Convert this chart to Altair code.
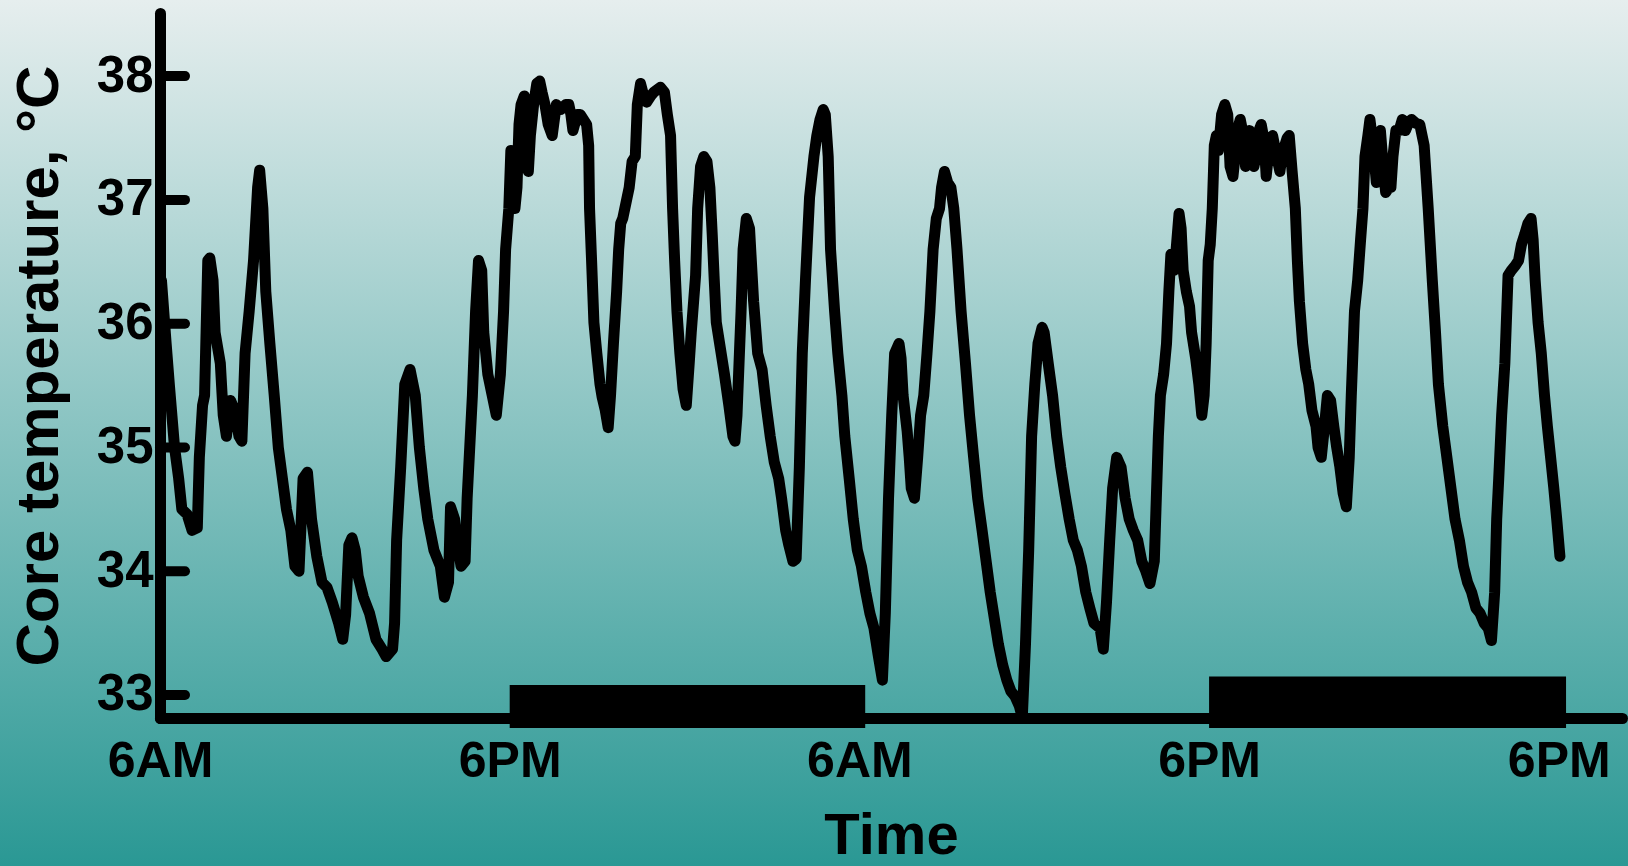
import json
import altair as alt
import pandas as pd

# ---- data (hours after 6AM, core temperature in deg C) ----
hours = [0.05, 0.21, 0.32, 0.50, 0.64, 0.75, 0.93, 1.10, 1.28, 1.35, 1.46, 1.53, 1.64, 1.71, 1.82, 1.89,
         2.07, 2.17, 2.28, 2.42, 2.56, 2.71, 2.81, 2.92, 3.06, 3.21, 3.35, 3.42, 3.53, 3.63, 3.77, 3.92,
         4.06, 4.20, 4.34, 4.49, 4.63, 4.77, 4.91, 5.06, 5.20, 5.38, 5.56, 5.73, 5.91, 6.13, 6.27, 6.37,
         6.48, 6.59, 6.70, 6.80, 6.98, 7.19, 7.41, 7.62, 7.76, 7.98, 8.05, 8.12, 8.26, 8.40, 8.58, 8.76,
         8.90, 9.05, 9.19, 9.40, 9.62, 9.76, 9.90, 9.97, 10.11, 10.19, 10.33, 10.47, 10.54, 10.72, 10.83,
         10.93, 11.04, 11.11, 11.25, 11.40, 11.54, 11.68, 11.79, 11.86, 11.97, 12.04, 12.11, 12.18, 12.25,
         12.32, 12.39, 12.50, 12.57, 12.64, 12.71, 12.82, 12.93, 13.03, 13.11, 13.21, 13.32, 13.46, 13.60,
         13.75, 13.92, 14.03, 14.10, 14.17, 14.32, 14.42, 14.53, 14.64, 14.71, 14.74, 14.81, 14.89, 14.99,
         15.10, 15.17, 15.28, 15.38, 15.46, 15.56, 15.67, 15.74, 15.81, 15.88, 16.03, 16.10, 16.20, 16.31,
         16.38, 16.49, 16.60, 16.70, 16.84, 16.95, 17.17, 17.31, 17.41, 17.52, 17.59, 17.66, 17.74, 17.84,
         17.95, 18.06, 18.16, 18.23, 18.38, 18.45, 18.55, 18.66, 18.77, 18.87, 18.95, 19.02, 19.09, 19.23,
         19.37, 19.52, 19.66, 19.73, 19.80, 19.87, 19.94, 20.01, 20.12, 20.23, 20.37, 20.51, 20.66, 20.80,
         20.94, 21.08, 21.23, 21.33, 21.47, 21.58, 21.72, 21.83, 21.94, 22.04, 22.15, 22.29, 22.44, 22.54,
         22.65, 22.76, 22.83, 22.93, 23.01, 23.15, 23.26, 23.40, 23.50, 23.65, 23.79, 23.93, 24.07, 24.22,
         24.36, 24.50, 24.64, 24.79, 24.89, 25.00, 25.11, 25.21, 25.36, 25.43, 25.50, 25.64, 25.71, 25.78,
         25.89, 26.00, 26.10, 26.21, 26.32, 26.42, 26.53, 26.64, 26.75, 26.82, 26.92, 27.03, 27.14, 27.24,
         27.35, 27.49, 27.64, 27.78, 27.92, 28.06, 28.21, 28.35, 28.49, 28.63, 28.77, 28.92, 29.06, 29.20,
         29.34, 29.49, 29.59, 29.70, 29.81, 29.91, 30.02, 30.13, 30.27, 30.34, 30.48, 30.63, 30.77, 30.91,
         31.05, 31.20, 31.34, 31.48, 31.62, 31.77, 31.91, 32.05, 32.26, 32.37, 32.48, 32.59, 32.69, 32.83,
         32.98, 33.12, 33.26, 33.40, 33.55, 33.69, 33.83, 33.97, 34.12, 34.19, 34.26, 34.33, 34.44, 34.54,
         34.62, 34.69, 34.79, 34.87, 34.97, 35.04, 35.11, 35.22, 35.33, 35.40, 35.54, 35.65, 35.75, 35.83,
         35.90, 35.97, 36.04, 36.11, 36.18, 36.25, 36.32, 36.43, 36.54, 36.64, 36.72, 36.82, 36.89, 36.97,
         37.07, 37.18, 37.25, 37.32, 37.39, 37.46, 37.54, 37.61, 37.71, 37.79, 37.89, 37.96, 38.07, 38.18,
         38.32, 38.43, 38.53, 38.60, 38.68, 38.75, 38.85, 38.96, 39.03, 39.10, 39.21, 39.32, 39.42, 39.53,
         39.67, 39.74, 39.85, 39.96, 40.06, 40.17, 40.28, 40.38, 40.49, 40.60, 40.71, 40.81, 40.88, 40.99,
         41.10, 41.20, 41.28, 41.35, 41.45, 41.52, 41.63, 41.74, 41.81, 41.88, 41.99, 42.06, 42.17, 42.24,
         42.31, 42.41, 42.52, 42.63, 42.74, 42.84, 42.95, 43.09, 43.23, 43.38, 43.52, 43.66, 43.77, 43.87,
         44.02, 44.16, 44.30, 44.44, 44.59, 44.73, 44.87, 45.01, 45.16, 45.30, 45.44, 45.58, 45.69, 45.80,
         45.87, 45.94, 46.04, 46.15, 46.26, 46.37, 46.51, 46.62, 46.72, 46.83, 46.94, 47.05, 47.12, 47.19,
         47.29, 47.40, 47.51, 47.61, 47.72, 47.83, 47.93, 48.04]
temps = [36.35, 35.84, 35.51, 35.00, 34.75, 34.50, 34.46, 34.33, 34.35, 34.92, 35.34, 35.42, 36.51, 36.53, 36.35, 35.93,
         35.68, 35.26, 35.09, 35.38, 35.30, 35.09, 35.05, 35.76, 36.10, 36.51, 37.10, 37.24, 36.93, 36.26, 35.84, 35.42,
         35.00, 34.75, 34.50, 34.33, 34.04, 34.00, 34.75, 34.80, 34.42, 34.12, 33.91, 33.87, 33.75, 33.58, 33.45, 33.65,
         34.21, 34.27, 34.17, 33.96, 33.79, 33.66, 33.45, 33.37, 33.31, 33.37, 33.58, 34.25, 34.84, 35.51, 35.63, 35.42,
         35.00, 34.67, 34.42, 34.17, 34.04, 33.79, 33.91, 34.52, 34.42, 34.25, 34.04, 34.08, 34.59, 35.42, 36.10,
         36.51, 36.43, 35.93, 35.59, 35.42, 35.26, 35.59, 36.10, 36.60, 36.93, 37.40, 37.35, 36.93, 37.10,
         37.61, 37.77, 37.84, 37.61, 37.23, 37.52, 37.77, 37.94, 37.96, 37.87, 37.77, 37.61, 37.52, 37.77,
         37.73, 37.77, 37.77, 37.69, 37.56, 37.69, 37.69, 37.65, 37.61, 37.44, 36.93, 36.51, 36.01, 35.76,
         35.51, 35.41, 35.30, 35.16, 35.42, 35.84, 36.26, 36.60, 36.81, 36.85, 37.02, 37.10, 37.31, 37.35,
         37.77, 37.94, 37.84, 37.79, 37.84, 37.87, 37.91, 37.87, 37.69, 37.52, 36.93, 36.51, 36.10, 35.76,
         35.47, 35.34, 35.68, 35.93, 36.39, 36.93, 37.27, 37.35, 37.31, 37.10, 36.72, 36.35, 36.01, 35.80,
         35.59, 35.34, 35.09, 35.05, 35.26, 35.68, 36.10, 36.60, 36.85, 36.77, 36.18, 35.76, 35.63, 35.34,
         35.09, 34.88, 34.75, 34.59, 34.33, 34.21, 34.08, 34.10, 34.84, 35.76, 36.35, 37.02, 37.35, 37.52,
         37.65, 37.73, 37.69, 37.35, 36.60, 36.10, 35.76, 35.42, 35.09, 34.75, 34.42, 34.17, 34.04, 33.83,
         33.66, 33.54, 33.33, 33.12, 33.66, 34.59, 35.26, 35.76, 35.84, 35.72, 35.42, 35.13, 34.92, 34.67,
         34.59, 34.92, 35.26, 35.42, 35.76, 36.10, 36.60, 36.85, 36.93, 37.10, 37.23, 37.14, 37.10, 36.93,
         36.60, 36.10, 35.68, 35.26, 34.92, 34.59, 34.33, 34.08, 33.83, 33.62, 33.41, 33.24, 33.12, 33.03,
         32.99, 32.91, 32.82, 33.41, 34.17, 35.09, 35.51, 35.84, 35.97, 35.93, 35.68, 35.42, 35.09, 34.84,
         34.63, 34.42, 34.25, 34.17, 34.04, 33.83, 33.70, 33.58, 33.54, 33.37, 33.75, 34.25, 34.67, 34.92,
         34.84, 34.59, 34.42, 34.33, 34.25, 34.08, 34.00, 33.90, 34.08, 34.59, 35.09, 35.42, 35.59, 35.84,
         36.26, 36.56, 36.43, 36.60, 36.89, 36.77, 36.43, 36.26, 36.14, 35.93, 35.72, 35.51, 35.26, 35.42,
         35.84, 36.51, 36.64, 36.93, 37.44, 37.52, 37.40, 37.69, 37.77, 37.69, 37.27, 37.19, 37.35, 37.56,
         37.65, 37.52, 37.27, 37.44, 37.56, 37.48, 37.27, 37.35, 37.56, 37.61, 37.48, 37.19, 37.44, 37.52,
         37.35, 37.23, 37.40, 37.44, 37.50, 37.52, 37.23, 36.93, 36.51, 36.18, 35.84, 35.63, 35.51, 35.30,
         35.17, 35.00, 34.92, 35.17, 35.42, 35.38, 35.17, 35.00, 34.84, 34.63, 34.52, 34.92, 35.42, 36.10,
         36.35, 36.68, 36.93, 37.35, 37.52, 37.65, 37.44, 37.14, 37.35, 37.56, 37.23, 37.06, 37.10, 37.10,
         37.35, 37.56, 37.56, 37.65, 37.56, 37.62, 37.65, 37.62, 37.61, 37.44, 36.93, 36.35, 35.93, 35.51,
         35.17, 34.92, 34.67, 34.42, 34.25, 34.04, 33.91, 33.83, 33.70, 33.66, 33.58, 33.54, 33.44, 33.83,
         34.42, 34.75, 35.26, 35.68, 36.39, 36.43, 36.47, 36.51, 36.64, 36.72, 36.81, 36.85, 36.68, 36.35,
         36.01, 35.76, 35.42, 35.17, 34.92, 34.67, 34.42, 34.12]

x_ticks = [0, 12, 24, 36, 48]
x_labels = ["6AM", "6PM", "6AM", "6PM", "6PM"]
y_ticks = [33, 34, 35, 36, 37, 38]

night_start = [12.0, 36.0]
night_end = [24.2, 48.25]
night_top = [33.08, 33.15]

# ---- layout ----
W, H = 1462, 705
PL, PT = 160, 13
PR = 1628 - PL - W
PB = 866 - PT - H

x_scale = alt.Scale(domain=[0, 50.17], nice=False, zero=False)
y_scale = alt.Scale(domain=[32.814, 38.51], nice=False, zero=False)

FONT = "Liberation Sans"
label_expr = json.dumps(x_labels) + "[round(datum.value / 12)]"

x_axis = alt.Axis(
    values=x_ticks, labelExpr=label_expr, ticks=False, grid=False,
    domainColor="black", domainWidth=11, domainCap="round",
    labelFont=FONT, labelFontSize=50, labelFontWeight="bold", labelColor="black",
    labelPadding=18, labelFlush=False, labelOverlap=False, labelBaseline="top",
    title="Time", titleFont=FONT, titleFontSize=58, titleFontWeight="bold",
    titleColor="black", titleBaseline="alphabetic", titleY=135, titleX=W / 2,
    zindex=2,
)
y_axis = alt.Axis(
    values=y_ticks, ticks=False, grid=False,
    domainColor="black", domainWidth=11, domainCap="round",
    labelFont=FONT, labelFontSize=51, labelFontWeight="bold", labelColor="black",
    labelPadding=7, labelOverlap=False, labelFlush=False,
    title="Core temperature, °C", titleFont=FONT, titleFontSize=60,
    titleFontWeight="bold", titleColor="black", titleBaseline="alphabetic",
    titleX=-103, titleY=H / 2, titleAlign="center", titleAngle=270,
    zindex=2,
)

line_df = pd.DataFrame({"hours": hours, "temp": temps})
night_df = pd.DataFrame({"hours": night_start, "e": night_end, "temp": night_top})
tick_df = pd.DataFrame({"temp": y_ticks})

bg = alt.Chart(pd.DataFrame({"k": [0]})).mark_rect(
    fill=alt.Gradient(
        gradient="linear", x1=0, y1=0, x2=0, y2=1,
        stops=[alt.GradientStop(offset=0, color="#e6eeee"),
               alt.GradientStop(offset=1, color="#2a9894")],
    ),
    strokeWidth=0,
).encode(
    x=alt.value(-PL), x2=alt.value(W + PR), y=alt.value(-PT), y2=alt.value(H + PB)
)

bars = alt.Chart(night_df).mark_rect(color="black").encode(
    x=alt.X("hours:Q", scale=x_scale, axis=x_axis),
    x2="e:Q",
    y=alt.Y("temp:Q", scale=y_scale, axis=y_axis),
    y2=alt.value(H + 10),
)

ticks = alt.Chart(tick_df).mark_rule(color="black", strokeWidth=10, strokeCap="round").encode(
    y=alt.Y("temp:Q", scale=y_scale, axis=y_axis),
    x=alt.value(0),
    x2=alt.value(25),
)

line = alt.Chart(line_df).mark_line(
    color="black", strokeWidth=11, strokeJoin="round", strokeCap="round"
).encode(
    x=alt.X("hours:Q", scale=x_scale, axis=x_axis),
    y=alt.Y("temp:Q", scale=y_scale, axis=y_axis),
)

chart = alt.layer(bg, bars, ticks, line).properties(
    width=W, height=H,
    autosize=alt.AutoSizeParams(type="none"),
    padding={"left": PL, "top": PT, "right": PR, "bottom": PB},
    background="#e6eeee",
).configure_view(strokeWidth=0)

chart.save("out.html", embed_options={"renderer": "svg", "actions": False})
